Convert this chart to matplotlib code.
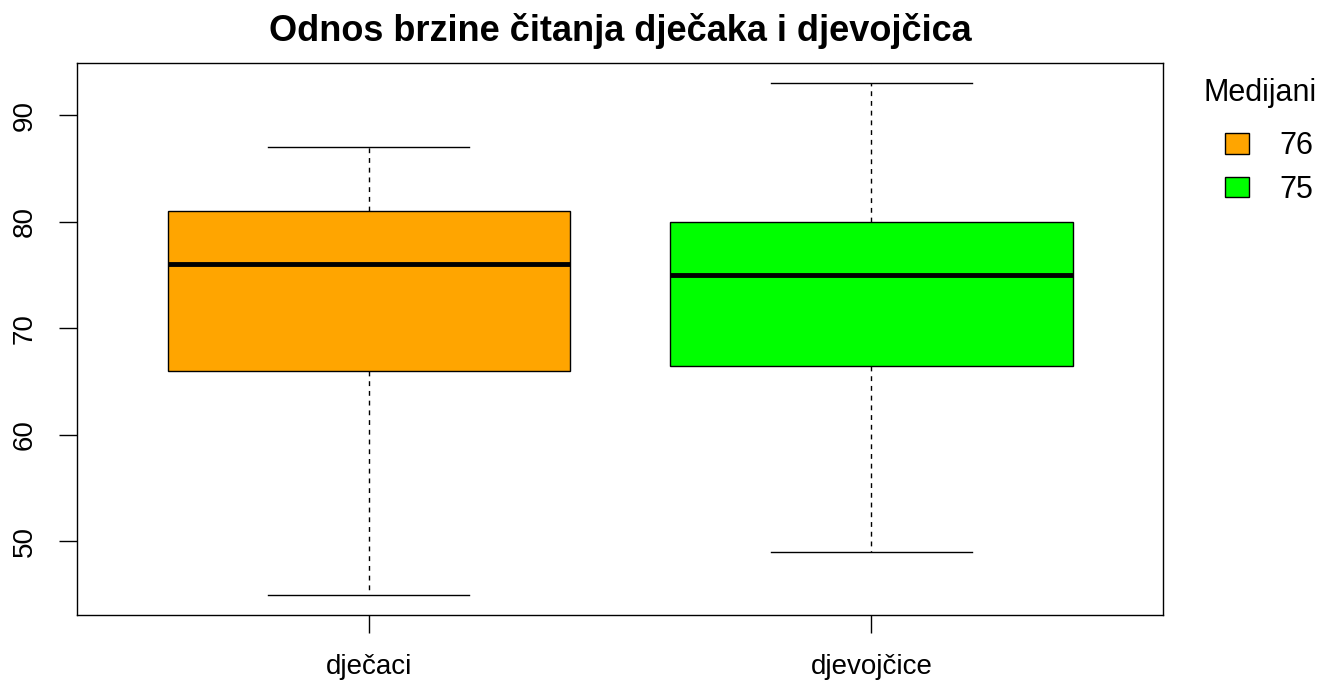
import matplotlib
matplotlib.use("Agg")
import matplotlib.pyplot as plt
from matplotlib.patches import Patch

plt.rcParams['font.family'] = ['Liberation Sans', 'DejaVu Sans']

categories = ["dječaci", "djevojčice"]
whisker_low = [45, 49]
q1 = [66, 66.5]
medians = [76, 75]
q3 = [81, 80]
whisker_high = [87, 93]
colors = ["#FFA500", "#00FF00"]
legend_title = "Medijani"
title = "Odnos brzine čitanja dječaka i djevojčica"

fig = plt.figure(figsize=(13.38, 6.88), dpi=100)
ax = fig.add_axes([77/1338, 1-615/688, (1163-77)/1338, (615-63)/688])

stats = []
for i, c in enumerate(categories):
    stats.append(dict(label=c, whislo=whisker_low[i], q1=q1[i], med=medians[i],
                      q3=q3[i], whishi=whisker_high[i], fliers=[]))

bp = ax.bxp(stats, positions=[1, 2], widths=0.8, patch_artist=True,
            boxprops=dict(linewidth=1.0, edgecolor='black'),
            medianprops=dict(color='black', linewidth=3.5, solid_capstyle='butt'),
            whiskerprops=dict(color='black', linewidth=1.0, linestyle=(0, (3.5, 3.5))),
            capprops=dict(color='black', linewidth=1.0),
            capwidths=0.4)
for patch, col in zip(bp['boxes'], colors):
    patch.set_facecolor(col)

ax.set_xlim(0.42, 2.58)
ax.set_ylim(43.08, 94.92)
ax.set_yticks([50, 60, 70, 80, 90])
ax.set_xticks([1, 2])
ax.set_xticklabels(categories)
for lab in ax.get_yticklabels():
    lab.set_rotation(90)
    lab.set_va('center')
ax.tick_params(axis='both', labelsize=20, length=13, width=1.0, pad=15)
for s in ax.spines.values():
    s.set_linewidth(1.0)

fig.text((77+1163)/2/1338, 1-31/688, title, ha='center', va='center',
         fontsize=26, fontweight='bold')

fig.text(1203/1338, 1-93/688, legend_title, ha='left', va='center', fontsize=22)
handles = [Patch(facecolor=colors[i], edgecolor='black', label=str(medians[i]))
           for i in range(2)]
leg = fig.legend(handles=handles, loc='upper left',
                 bbox_to_anchor=(1225/1338, 1-131/688), frameon=False,
                 fontsize=22, handlelength=0.77, handleheight=0.67,
                 handletextpad=1.0, labelspacing=0.45, borderpad=0, borderaxespad=0)

fig.savefig("out.png", dpi=100)
